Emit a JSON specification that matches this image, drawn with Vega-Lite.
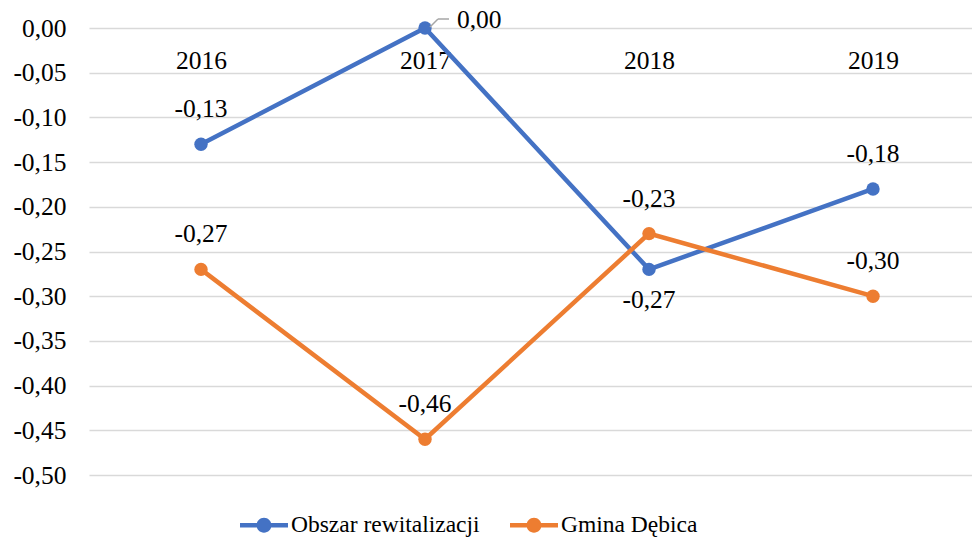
{
  "$schema": "https://vega.github.io/schema/vega-lite/v6.json",
  "width": 883,
  "height": 447,
  "autosize": {"type": "none"},
  "padding": {"left": 89, "top": 28, "right": 0, "bottom": 64},
  "background": "white",
  "config": {
    "view": {"stroke": null},
    "locale": {"number": {"decimal": ",", "thousands": " ", "grouping": [3], "currency": ["", " zł"], "minus": "-"}},
    "font": "Liberation Serif",
    "text": {"font": "Liberation Serif", "fontSize": 25.5, "color": "black"}
  },
  "data": {
    "values": [
      {"year": 2016, "series": "Obszar rewitalizacji", "value": -0.13},
      {"year": 2017, "series": "Obszar rewitalizacji", "value": 0.00},
      {"year": 2018, "series": "Obszar rewitalizacji", "value": -0.27},
      {"year": 2019, "series": "Obszar rewitalizacji", "value": -0.18},
      {"year": 2016, "series": "Gmina Dębica", "value": -0.27},
      {"year": 2017, "series": "Gmina Dębica", "value": -0.46},
      {"year": 2018, "series": "Gmina Dębica", "value": -0.23},
      {"year": 2019, "series": "Gmina Dębica", "value": -0.30}
    ]
  },
  "encoding": {
    "x": {
      "field": "year", "type": "quantitative",
      "scale": {"domain": [2015.5, 2019.442], "nice": false, "zero": false},
      "axis": {
        "orient": "bottom", "offset": -447, "values": [2016, 2017, 2018, 2019], "format": "d",
        "title": null, "domain": false, "ticks": false, "grid": false,
        "labelFont": "Liberation Serif", "labelFontSize": 25.5, "labelColor": "black",
        "labelPadding": 20, "labelFontWeight": "normal"
      }
    },
    "y": {
      "field": "value", "type": "quantitative",
      "scale": {"domain": [-0.5, 0], "nice": false, "zero": false},
      "axis": {
        "values": [0, -0.05, -0.1, -0.15, -0.2, -0.25, -0.3, -0.35, -0.4, -0.45, -0.5],
        "format": ".2f", "title": null, "domain": false, "ticks": false,
        "grid": true, "gridColor": "#d9d9d9", "gridWidth": 1.5,
        "labelFont": "Liberation Serif", "labelFontSize": 25.5, "labelColor": "black",
        "labelPadding": 23, "labelBaseline": "middle"
      }
    },
    "color": {
      "field": "series", "type": "nominal",
      "scale": {"domain": ["Obszar rewitalizacji", "Gmina Dębica"], "range": ["#4472C4", "#ED7D31"]},
      "legend": {
        "title": null, "orient": "none", "legendX": 151, "legendY": 473,
        "direction": "horizontal", "padding": 0,
        "symbolType": "M-1,-0.09 L1,-0.09 L1,0.09 L-1,0.09 Z M0.31,0 A0.31,0.31 0 1,1 -0.31,0 A0.31,0.31 0 1,1 0.31,0 Z",
        "symbolSize": 2304, "symbolStrokeWidth": 0, "symbolOpacity": 1,
        "labelFont": "Liberation Serif", "labelFontSize": 23.5, "labelColor": "black",
        "labelOffset": 3, "columnPadding": 30, "labelLimit": 400,
        "encode": {"symbols": {"update": {"fill": {"scale": "color", "field": "value"}, "stroke": {"value": "transparent"}}}}
      }
    }
  },
  "layer": [
    {"mark": {"type": "line", "strokeWidth": 4.5, "clip": false}},
    {"mark": {"type": "point", "filled": true, "size": 180, "opacity": 1, "clip": false}},
    {
      "transform": [{"filter": "!(datum.series === 'Obszar rewitalizacji' && (datum.year === 2017 || datum.year === 2018))"}],
      "mark": {"type": "text", "dy": -35, "baseline": "middle", "align": "center"},
      "encoding": {"text": {"field": "value", "type": "quantitative", "format": ".2f"}, "color": {"value": "black"}}
    },
    {
      "transform": [{"filter": "datum.series === 'Obszar rewitalizacji' && datum.year === 2018"}],
      "mark": {"type": "text", "dy": 31, "baseline": "middle", "align": "center"},
      "encoding": {"text": {"field": "value", "type": "quantitative", "format": ".2f"}, "color": {"value": "black"}}
    },
    {
      "transform": [{"filter": "datum.series === 'Obszar rewitalizacji' && datum.year === 2017"}],
      "mark": {"type": "text", "dx": 32, "dy": -8, "baseline": "middle", "align": "left"},
      "encoding": {"text": {"field": "value", "type": "quantitative", "format": ".2f"}, "color": {"value": "black"}}
    },
    {
      "transform": [{"filter": "datum.series === 'Obszar rewitalizacji' && datum.year === 2017"}],
      "mark": {"type": "rule", "color": "#a6a6a6", "strokeWidth": 1.5, "xOffset": 5, "yOffset": -1, "x2Offset": 13, "y2Offset": -9},
      "encoding": {"x2": {"field": "year"}, "y2": {"field": "value"}, "color": {"value": "#a6a6a6"}}
    },
    {
      "transform": [{"filter": "datum.series === 'Obszar rewitalizacji' && datum.year === 2017"}],
      "mark": {"type": "rule", "color": "#a6a6a6", "strokeWidth": 1.5, "xOffset": 13, "yOffset": -9, "x2Offset": 24, "y2Offset": -9},
      "encoding": {"x2": {"field": "year"}, "y2": {"field": "value"}, "color": {"value": "#a6a6a6"}}
    }
  ]
}
